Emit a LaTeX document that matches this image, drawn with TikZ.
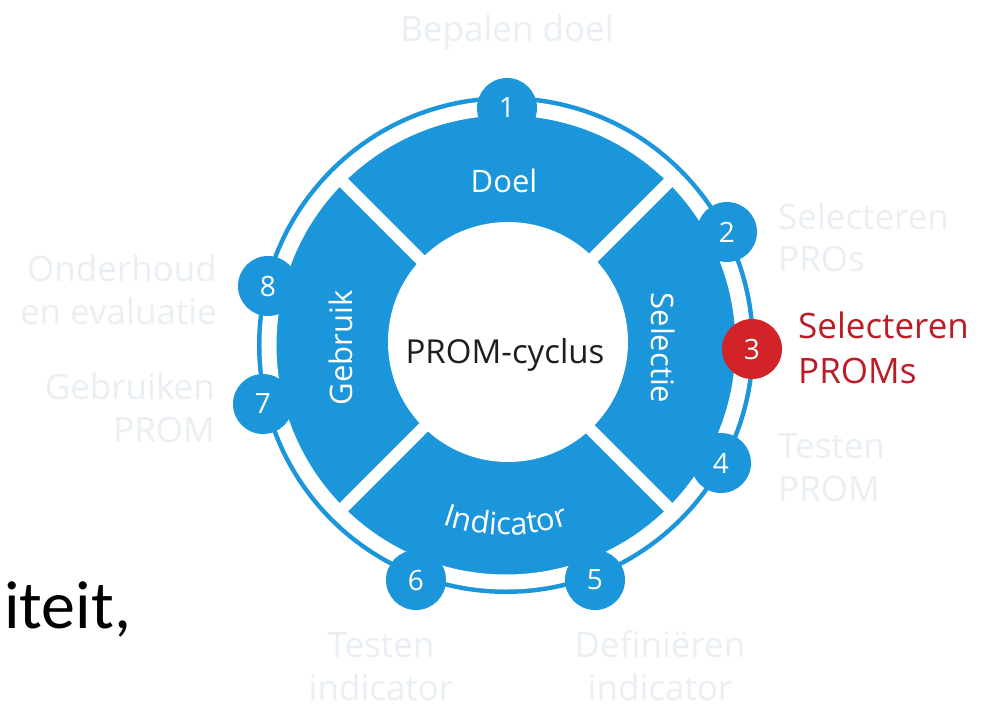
\documentclass[tikz,border=0pt]{standalone}
\usepackage{fontspec}
\setmainfont{Open Sans}
\newfontfamily\calfont{Carlito}
\usetikzlibrary{decorations.text}
\definecolor{promblue}{RGB}{28,150,218}
\definecolor{promred}{RGB}{210,35,40}
\definecolor{redtext}{RGB}{185,30,40}
\definecolor{fadecol}{RGB}{234,239,244}
\definecolor{textdark}{RGB}{30,30,30}
\newcommand\segfont{\fontsize{31}{31}\selectfont}
\tikzset{
  numcirc/.style={circle, fill=promblue, minimum size=60pt, inner sep=0pt, text=white, font=\fontsize{28}{28}\selectfont},
  seglabel/.style={text=white, font=\segfont, inner sep=0pt},
  fadelabel/.style={text=fadecol, font=\fontsize{35}{43}\selectfont, inner sep=0pt},
  redlabel/.style={text=redtext, font=\fontsize{35}{45}\selectfont, inner sep=0pt},
}
\begin{document}
\begin{tikzpicture}[x=1pt,y=1pt]
\useasboundingbox (-506,-362) rectangle (482,345);
\fill[white] (-506,-362) rectangle (482,345);
% ring
\fill[promblue] (0,0) circle[radius=249];
\draw[white, line width=15pt] (0,0) circle[radius=237];
\foreach \a in {45,135,225,315} \draw[white, line width=12pt] (0,0) -- (\a:236);
\fill[white] (2,3) circle[radius=120];
% numbered circles
\node[numcirc] (n1) at (1,237) {1};
\node[numcirc] (n2) at (221,113) {2};
\node[numcirc, fill=promred] (n3) at (246,-4) {3};
\node[numcirc] (n4) at (215,-118) {4};
\node[numcirc] (n5) at (89,-235) {5};
\node[numcirc] (n6) at (-90,-235) {6};
\node[numcirc] (n7) at (-243,-59) {7};
\node[numcirc] (n8) at (-238,59) {8};
% centre and segment labels
\node[text=textdark, font=\fontsize{33}{33}\selectfont, inner sep=0pt, anchor=base] (title) at (-1,-18) {PROM-cyclus};
\node[seglabel, anchor=base] (doel) at (-2,152) {Doel};
\node[seglabel, rotate=-90] (sel) at (157,-3) {Selectie};
\node[seglabel, rotate=90] (geb) at (-165,-3) {Gebruik};
\path[decorate, decoration={text along path, text={|\color{white}\segfont|Indicator}, text align=center}]
  (200:190) arc[start angle=200, end angle=340, radius=190];
% outer labels (base anchor = baseline of the last line)
\node[fadelabel, anchor=base] (l1) at (1,303) {Bepalen doel};
\node[fadelabel, align=left, anchor=base west] (l2) at (272,73) {Selecteren\\PROs};
\node[redlabel, align=left, anchor=base west] (l3) at (292,-38) {Selecteren\\PROMs};
\node[fadelabel, align=left, anchor=base west] (l4) at (272,-156) {Testen\\PROM};
\node[fadelabel, align=center, anchor=base] (l5) at (154,-355) {Definiëren\\indicator};
\node[fadelabel, align=center, anchor=base] (l6) at (-125,-355) {Testen\\indicator};
\node[fadelabel, align=right, anchor=base east] (l7) at (-291,-97) {Gebruiken\\PROM};
\node[fadelabel, align=right, anchor=base east] (l8) at (-289,21) {Onderhoud\\en evaluatie};
% partial slide text
\node[text=black, font=\calfont\fontsize{68}{68}\selectfont, inner sep=0pt, anchor=base west] (frag) at (-502,-283) {iteit,};
\end{tikzpicture}
\end{document}
